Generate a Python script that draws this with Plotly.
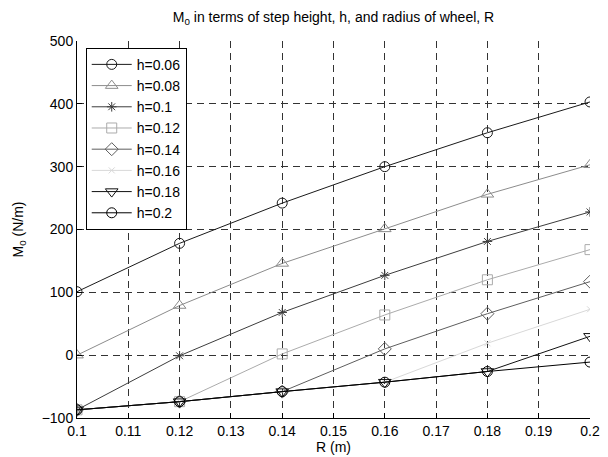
import plotly.graph_objects as go

R = [0.1, 0.12, 0.14, 0.16, 0.18, 0.2]
labels = ["h=0.06", "h=0.08", "h=0.1", "h=0.12", "h=0.14", "h=0.16", "h=0.18", "h=0.2"]
h006 = [101, 178, 242, 300, 354, 403]
h008 = [0, 79, 146, 201, 256, 303]
h010 = [-87, -1, 68, 127, 181, 228]
h012 = [-87, -74, 2, 64, 120, 168]
h014 = [-87, -74, -58, 10, 66, 117]
h016 = [-87, -74, -58, -43, 19, 73]
h018 = [-87, -74, -58, -43, -26, 30]
h020 = [-87, -74, -58, -43, -26, -11]
series = [h006, h008, h010, h012, h014, h016, h018, h020]

colors = ["#1a1a1a", "#8c8c8c", "#3c3c3c", "#ababab", "#5e5e5e", "#d8d8d8", "#111111", "#000000"]
symbols = ["circle-open", "triangle-up-open", "asterisk-open", "square-open",
           "diamond-open", "x-thin-open", "triangle-down-open", "circle-open"]
sizes = [10, 11, 8, 10, 10, 6, 11, 10]

FONT = "Liberation Sans, Arial, sans-serif"

# page body has an 8px default margin; size the figure so the plot area lands
# at window x 77..590, y 41..418
W, H = 600, 449
ML, MR, MT, MB = 69, 18, 33, 39

fig = go.Figure()
for lab, ys, c, s, sz in zip(labels, series, colors, symbols, sizes):
    fig.add_trace(go.Scatter(
        x=R, y=ys, name=lab, mode="lines+markers",
        line=dict(color=c, width=1),
        marker=dict(symbol=s, size=sz, color=c, line=dict(color=c, width=1)),
    ))

axis_common = dict(
    showgrid=True, gridcolor="#333333", gridwidth=1, griddash="7px,5px",
    showline=True, linecolor="black", linewidth=1,
    ticks="inside", ticklen=5, tickcolor="black",
    zeroline=False, automargin=False,
    tickfont=dict(family=FONT, size=14, color="black"),
)

fig.update_layout(
    width=W, height=H,
    margin=dict(l=ML, r=MR, t=MT, b=MB),
    paper_bgcolor="white", plot_bgcolor="white",
    font=dict(family=FONT, size=14, color="black"),
    title=dict(text="M<sub>0</sub> in terms of step height, h, and radius of wheel, R",
               x=(ML + (W - ML - MR) / 2) / W, xanchor="center",
               y=1 - 9 / H, yanchor="middle",
               font=dict(size=14, color="black")),
    xaxis=dict(range=[0.1, 0.2], tickvals=[0.1, 0.11, 0.12, 0.13, 0.14, 0.15, 0.16, 0.17, 0.18, 0.19, 0.2],
               ticktext=["0.1", "0.11", "0.12", "0.13", "0.14", "0.15", "0.16", "0.17", "0.18", "0.19", "0.2"],
               title=dict(text="R (m)", standoff=0, font=dict(size=14)), **axis_common),
    yaxis=dict(range=[-100, 500], tickvals=[-100, 0, 100, 200, 300, 400, 500],
               title=dict(text="M<sub>0</sub> (N/m)", standoff=14, font=dict(size=14)), **axis_common),
    legend=dict(x=0.017, y=0.982, xanchor="left", yanchor="top",
                bgcolor="white", bordercolor="black", borderwidth=1,
                font=dict(size=14, color="black"), itemwidth=40,
                tracegroupgap=0),
    showlegend=True,
)

fig.write_html("out.html")
